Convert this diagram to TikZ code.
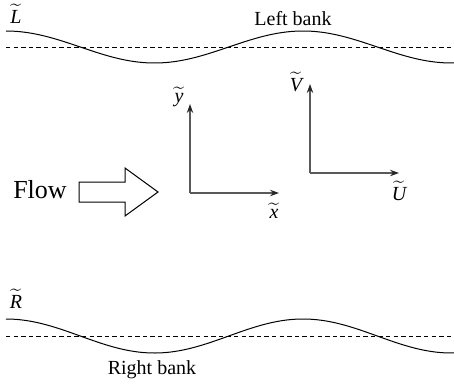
\documentclass[tikz,border=0pt]{standalone}
\usepackage{fontspec}
\setmainfont{Liberation Serif}
\usetikzlibrary{arrows.meta}
\tikzset{
  axis/.style={black!65, line width=0.75pt, -{Stealth[length=4.5pt,width=3.2pt,black!85]}},
  bank/.style={line width=0.5pt},
  mean/.style={line width=0.4pt, dash pattern=on 2.2pt off 1.6pt},
  lab/.style={inner sep=0pt, font=\fontsize{10}{12}\selectfont}
}
\begin{document}
\begin{tikzpicture}[x=0.5pt,y=-0.5pt]
\def\xA{6};
\def\xB{454};
\def\per{297};
\useasboundingbox (0,0) rectangle (454,385);
\foreach \c/\a in {47/16,336/17}{
  \draw[mean] (\xA,\c) -- (452,\c);
  \draw[bank] plot[domain=\xA:\xB, samples=100, smooth] (\x,{\c-\a*cos((\x-\xA)/\per*360)});
}
\node[lab] (L) at (16,14) {$\widetilde{\textit{L}}$};
\node[lab] (left) at (293,19) {Left bank};
\node[lab] (R) at (16,299) {$\widetilde{\textit{R}}$};
\node[lab] (right) at (152,370) {Right bank};
\coordinate (O1) at (190,193);
\coordinate (X1) at (279,193);
\coordinate (Y1) at (190,104);
\coordinate (O2) at (310,173);
\coordinate (U2) at (399,173);
\coordinate (V2) at (310,84);
\draw[axis] (O1) -- (X1);
\draw[axis] (O1) -- (Y1);
\draw[axis] (O2) -- (U2);
\draw[axis] (O2) -- (V2);
\node[lab] (x) at (274,211) {$\widetilde{\textit{x}}$};
\node[lab] (y) at (179,97) {$\widetilde{\textit{y}}$};
\node[lab] (U) at (399,191) {$\widetilde{\textit{U}}$};
\node[lab] (V) at (296,82) {$\widetilde{\textit{V}}$};
\node[inner sep=0pt, font=\fontsize{13}{15}\selectfont] (flow) at (40,190) {Flow};
\draw[line width=0.5pt] (79,182) -- (125,182) -- (125,168) -- (158,192) -- (125,216) -- (125,202) -- (79,202) -- cycle;
\end{tikzpicture}
\end{document}
